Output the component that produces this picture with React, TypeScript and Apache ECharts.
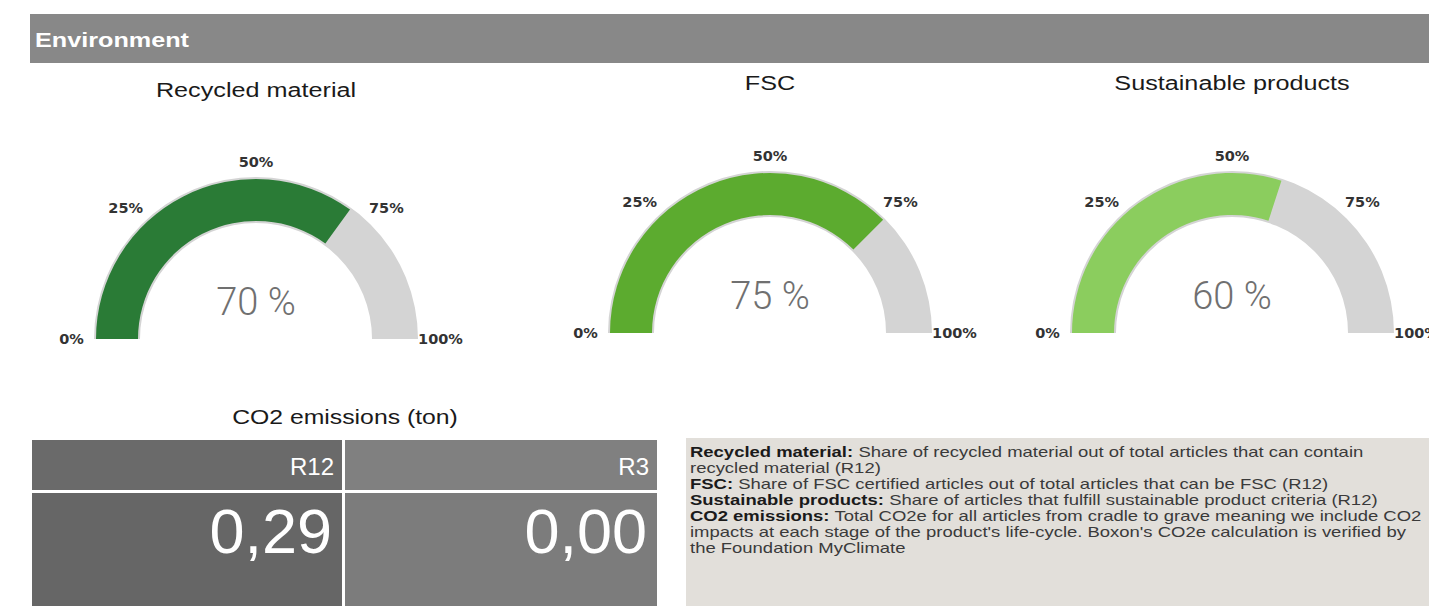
import React, { useEffect, useRef } from 'react';
import * as echarts from 'echarts';

// ---------------- data ----------------
const sectionTitle = 'Environment';
const gaugeTitles = ['Recycled material', 'FSC', 'Sustainable products'];
const gaugeValues = [70, 75, 60];
const gaugeMin = 0;
const gaugeMax = 100;
const gaugeSplits = 4; // 0 %, 25 %, 50 %, 75 %, 100 %
const co2Title = 'CO2 emissions (ton)';
const co2Periods = ['R12', 'R3'];
const co2Values = [0.29, 0.0];
const noteLabels = ['Recycled material:', '', 'FSC:', 'Sustainable products:', 'CO2 emissions:', '', ''];
const noteTexts = [
  ' Share of recycled material out of total articles that can contain',
  'recycled material (R12)',
  ' Share of FSC certified articles out of total articles that can be FSC (R12)',
  ' Share of articles that fulfill sustainable product criteria (R12)',
  ' Total CO2e for all articles from cradle to grave meaning we include CO2',
  "impacts at each stage of the product's life-cycle. Boxon's CO2e calculation is verified by",
  'the Foundation MyClimate',
];

// ---------------- layout / style ----------------
const W = 1429;
const H = 606;
const gaugeCenters = [
  [256, 339],
  [770, 333],
  [1232, 333],
];
const gaugeTitleY = [90, 83, 83];
const gaugeColors = ['#2a7b36', '#5cab2f', '#8bcd5e'];
const trackColor = '#d4d4d4';
const WIDE = 1.2;
const SANS = '"Liberation Sans", Arial, sans-serif';

const fmtComma = (v: number) => v.toFixed(2).replace('.', ',');

function buildOption() {
  const series: any[] = [];
  gaugeValues.forEach((v, i) => {
    const common = {
      type: 'gauge',
      center: gaugeCenters[i],
      startAngle: 180,
      endAngle: 0,
      min: gaugeMin,
      max: gaugeMax,
      splitNumber: gaugeSplits,
      pointer: { show: false },
      anchor: { show: false },
      axisTick: { show: false },
      splitLine: { show: false, length: 0, distance: 0 },
      title: { show: false },
      silent: true,
    };
    series.push({
      ...common,
      radius: 162,
      axisLine: { show: true, lineStyle: { width: 46, color: [[1, trackColor]] } },
      progress: { show: false },
      axisLabel: { show: false },
      detail: { show: false },
      data: [{ value: v }],
    });
    series.push({
      ...common,
      radius: 160,
      axisLine: { show: false },
      progress: { show: true, width: 42, itemStyle: { color: gaugeColors[i] } },
      axisLabel: {
        show: true,
        distance: -25,
        formatter: (val: number) => `{t|${val}%}`,
        rich: {
          t: {
            width: 1,
            align: 'center',
            lineHeight: 16,
            fontFamily: 'DejaVu Sans',
            fontWeight: 'bold',
            fontSize: 14.5,
            color: '#333333',
          },
        },
      },
      detail: {
        show: true,
        offsetCenter: [0, -37],
        formatter: '{value} %',
        fontFamily: 'Roboto',
        fontWeight: 300,
        fontSize: 38,
        color: '#707070',
        valueAnimation: false,
      },
      data: [{ value: v }],
    });
  });

  const graphic: any[] = [];
  // header bar
  graphic.push({ type: 'rect', shape: { x: 30, y: 14, width: W - 30, height: 49 }, style: { fill: '#888888' } });
  graphic.push({
    type: 'text', x: 35, y: 40, scaleX: WIDE,
    style: {
      text: sectionTitle, font: `bold 21px ${SANS}`, fill: '#ffffff',
      textAlign: 'left', textVerticalAlign: 'middle', align: 'left', verticalAlign: 'middle',
    },
  });
  // gauge titles
  gaugeTitles.forEach((t, i) => {
    graphic.push({
      type: 'text', x: gaugeCenters[i][0], y: gaugeTitleY[i], scaleX: WIDE,
      style: {
        text: t, font: `21px ${SANS}`, fill: '#1a1a1a',
        textAlign: 'center', textVerticalAlign: 'middle', align: 'center', verticalAlign: 'middle',
      },
    });
  });
  // CO2 table
  graphic.push({
    type: 'text', x: 345, y: 417, scaleX: 1.18,
    style: {
      text: co2Title, font: `21px ${SANS}`, fill: '#1a1a1a',
      textAlign: 'center', textVerticalAlign: 'middle', align: 'center', verticalAlign: 'middle',
    },
  });
  const colX = [32, 345];
  const colW = [310, 312];
  const headFill = ['#6a6a6a', '#808080'];
  const valFill = ['#666666', '#7c7c7c'];
  co2Periods.forEach((p, i) => {
    graphic.push({ type: 'rect', shape: { x: colX[i], y: 440, width: colW[i], height: 50 }, style: { fill: headFill[i] } });
    graphic.push({ type: 'rect', shape: { x: colX[i], y: 493, width: colW[i], height: H - 493 }, style: { fill: valFill[i] } });
    graphic.push({
      type: 'text', x: colX[i] + colW[i] - 8, y: 466,
      style: {
        text: p, font: `24px ${SANS}`, fill: '#ffffff',
        textAlign: 'right', textVerticalAlign: 'middle', align: 'right', verticalAlign: 'middle',
      },
    });
    graphic.push({
      type: 'text', x: colX[i] + colW[i] - 10, y: 531,
      style: {
        text: fmtComma(co2Values[i]), font: `63px ${SANS}`, fill: '#ffffff',
        textAlign: 'right', textVerticalAlign: 'middle', align: 'right', verticalAlign: 'middle',
      },
    });
  });
  // notes panel
  graphic.push({ type: 'rect', shape: { x: 686, y: 438, width: W - 686, height: H - 438 }, style: { fill: '#e2dfda' } });
  const noteStr = noteTexts
    .map((t, i) => (noteLabels[i] ? `{b|${noteLabels[i]}}` : '') + `{n|${t}}`)
    .join('\n');
  graphic.push({
    type: 'text', x: 690, y: 444, scaleX: 1.32,
    style: {
      text: noteStr,
      textAlign: 'left', textVerticalAlign: 'top', align: 'left', verticalAlign: 'top',
      lineHeight: 16,
      rich: {
        b: { font: `bold 14px ${SANS}`, fill: '#1a1a1a', lineHeight: 16 },
        n: { font: `14px ${SANS}`, fill: '#3a3a3a', lineHeight: 16 },
      },
    },
  });

  return { animation: false, series, graphic };
}

export default function App() {
  const ref = useRef<HTMLDivElement>(null);
  useEffect(() => {
    if (!ref.current) return;
    const chart = echarts.init(ref.current, undefined, { renderer: 'svg' });
    chart.setOption(buildOption() as any);
    return () => chart.dispose();
  }, []);
  return <div ref={ref} style={{ position: 'fixed', left: 0, top: 0, width: W, height: H, background: '#ffffff' }} />;
}
